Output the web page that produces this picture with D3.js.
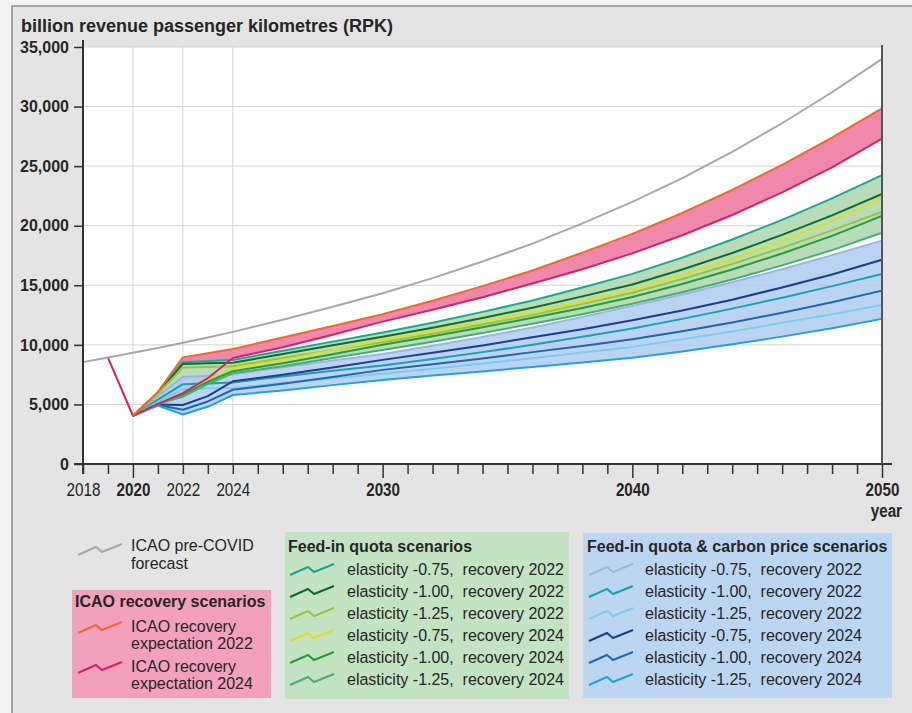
<!DOCTYPE html>
<html>
<head>
<meta charset="utf-8">
<script src="https://cdn.jsdelivr.net/npm/d3@7"></script>
<style>
body { margin: 0; background: #f4f4f4; }
svg text { font-family: "Liberation Sans", Arial, sans-serif; fill: #262626; }
</style>
</head>
<body>
<div id="chart"></div>
<script>
// years with data points
let years = [2018, 2019, 2020, 2021, 2022, 2023, 2024, 2026, 2028, 2030, 2032, 2034, 2036, 2038, 2040, 2042, 2044, 2046, 2048, 2050];

let yTicks = [0, 5000, 10000, 15000, 20000, 25000, 30000, 35000];
let xLabelYears = [2018, 2020, 2022, 2024, 2030, 2040, 2050];
let xBoldYears = [2020, 2030, 2040, 2050];
let gridYears = [2020, 2022, 2024];

let preCovid = [8550, 8930, 9330, 9740, 10170, 10620, 11090, 12100, 13200, 14330, 15600, 17000, 18500, 20200, 22000, 24000, 26200, 28600, 31200, 34000];
let icao2022 = [null, null, 4050, 6050, 8950, 9300, 9650, 10620, 11590, 12580, 13700, 14930, 16240, 17740, 19320, 21070, 23000, 25110, 27390, 29850];
let icao2024 = [null, 8930, 4050, 5050, 5950, 7200, 8900, 9800, 10850, 11950, 12950, 14000, 15150, 16350, 17680, 19200, 20900, 22800, 24900, 27300];

// feed-in quota
let fq22_075 = [null, null, 4050, 6000, 8550, 8650, 8730, 9500, 10270, 11030, 11860, 12770, 13720, 14810, 15960, 17320, 18840, 20490, 22300, 24250];
let fq22_100 = [null, null, 4050, 5950, 8400, 8450, 8490, 9240, 9970, 10680, 11440, 12260, 13110, 14070, 15070, 16330, 17710, 19230, 20870, 22660];
let fq22_125 = [null, null, 4050, 5900, 8100, 8150, 8200, 8890, 9560, 10210, 10930, 11710, 12500, 13430, 14370, 15530, 16790, 18150, 19610, 21170];
let fq24_075 = [null, null, 4050, 5050, 5950, 7100, 8010, 8720, 9550, 10410, 11160, 11930, 12770, 13650, 14660, 15860, 17200, 18720, 20390, 22300];
let fq24_100 = [null, null, 4050, 5050, 5800, 6900, 7790, 8450, 9220, 10000, 10720, 11470, 12270, 13100, 14020, 15110, 16320, 17670, 19150, 20830];
let fq24_125 = [null, null, 4050, 5050, 5650, 6700, 7610, 8200, 8890, 9570, 10270, 10990, 11770, 12570, 13450, 14420, 15490, 16670, 17950, 19410];

// feed-in quota & carbon price
let cp22_075 = [null, null, 4050, 5700, 7300, 7400, 7530, 8120, 8690, 9230, 9920, 10670, 11450, 12350, 13270, 14220, 15250, 16350, 17530, 18750];
let cp22_100 = [null, null, 4050, 5400, 6700, 6750, 6850, 7350, 7820, 8270, 8810, 9390, 10000, 10680, 11380, 12180, 13040, 13960, 14930, 15940];
let cp22_125 = [null, null, 4050, 5200, 6300, 6350, 6370, 6800, 7200, 7570, 7990, 8440, 8870, 9350, 9830, 10470, 11130, 11850, 12570, 13340];
let cp24_075 = [null, null, 4050, 5000, 4950, 5700, 6940, 7490, 8100, 8740, 9340, 9950, 10640, 11310, 12060, 12880, 13790, 14820, 15910, 17150];
let cp24_100 = [null, null, 4050, 4950, 4550, 5250, 6230, 6730, 7310, 7900, 8380, 8860, 9390, 9910, 10470, 11140, 11870, 12700, 13570, 14550];
let cp24_125 = [null, null, 4050, 4900, 4150, 4800, 5790, 6170, 6620, 7050, 7420, 7770, 8150, 8520, 8910, 9450, 10050, 10690, 11400, 12180];

let scenarioLabels = ["elasticity -0.75,  recovery 2022", "elasticity -1.00,  recovery 2022", "elasticity -1.25,  recovery 2022",
                      "elasticity -0.75,  recovery 2024", "elasticity -1.00,  recovery 2024", "elasticity -1.25,  recovery 2024"];

let greenSeries = [
  {values: fq22_075, color: "#1fa596"},
  {values: fq22_100, color: "#0f6b2e"},
  {values: fq22_125, color: "#9cc43a"},
  {values: fq24_075, color: "#dbe024"},
  {values: fq24_100, color: "#279a3b"},
  {values: fq24_125, color: "#45b06e"}
];
let blueSeries = [
  {values: cp22_075, color: "#9db4de"},
  {values: cp22_100, color: "#1a9fb3"},
  {values: cp22_125, color: "#7ccbef"},
  {values: cp24_075, color: "#1d3c8c"},
  {values: cp24_100, color: "#1f66ae"},
  {values: cp24_125, color: "#22a2d8"}
];

let width = 912, height = 713;
let svg = d3.select("#chart").append("svg")
            .attr("width", width)
            .attr("height", height);

svg.append("rect")
   .attr("x", 12).attr("y", 6)
   .attr("width", width).attr("height", height)
   .attr("fill", "#e4e4e4")
   .attr("stroke", "#8c8c8c")
   .attr("stroke-width", 1.5);

let x = d3.scaleLinear().domain([2018, 2050]).range([83, 882]);
let y = d3.scaleLinear().domain([0, 35000]).range([464, 47]);

let rows = years.map(function(yr, i) { return {year: yr, i: i}; });

// plot background
svg.append("rect")
   .attr("x", x(2018)).attr("y", y(35000))
   .attr("width", x(2050) - x(2018)).attr("height", y(0) - y(35000))
   .attr("fill", "#fff");

// grid
svg.append("g").selectAll("line")
   .data(yTicks.slice(1))
   .enter().append("line")
     .attr("x1", x(2018)).attr("x2", x(2050))
     .attr("y1", function(d) { return y(d); })
     .attr("y2", function(d) { return y(d); })
     .attr("stroke", "#d4d4d4");
svg.append("g").selectAll("line")
   .data(gridYears)
   .enter().append("line")
     .attr("x1", function(d) { return x(d); })
     .attr("x2", function(d) { return x(d); })
     .attr("y1", y(35000)).attr("y2", y(0))
     .attr("stroke", "#d4d4d4");

// bands
let pinkArea = d3.area()
    .defined(function(d) { return icao2022[d.i] != null && icao2024[d.i] != null; })
    .x(function(d) { return x(d.year); })
    .y0(function(d) { return y(icao2024[d.i]); })
    .y1(function(d) { return y(icao2022[d.i]); });
svg.append("path").datum(rows).attr("d", pinkArea).attr("fill", "#ee89ab");

function bandArea(group) {
  return d3.area()
    .defined(function(d) { return group[0].values[d.i] != null; })
    .x(function(d) { return x(d.year); })
    .y0(function(d) { return y(d3.min(group, function(s) { return s.values[d.i]; })); })
    .y1(function(d) { return y(d3.max(group, function(s) { return s.values[d.i]; })); });
}
svg.append("path").datum(rows).attr("d", bandArea(greenSeries)).attr("fill", "#b9dcb8");
svg.append("path").datum(rows).attr("d", bandArea(blueSeries)).attr("fill", "#aecbee").attr("fill-opacity", 0.85);

function seriesLine(values) {
  return d3.line()
    .defined(function(d) { return values[d.i] != null; })
    .x(function(d) { return x(d.year); })
    .y(function(d) { return y(values[d.i]); });
}

let lines = blueSeries.concat(greenSeries).concat([
  {values: icao2024, color: "#d6206e"},
  {values: icao2022, color: "#eb6a2d"},
  {values: preCovid, color: "#a8a8a8"}
]);
svg.append("g").selectAll("path")
   .data(lines)
   .enter().append("path")
     .attr("d", function(s) { return seriesLine(s.values)(rows); })
     .attr("fill", "none")
     .attr("stroke", function(s) { return s.color; })
     .attr("stroke-width", 2)
     .attr("stroke-linejoin", "round");

// y axis
let yAxis = svg.append("g")
   .attr("transform", "translate(" + x(2018) + ",0)")
   .call(d3.axisLeft(y).tickValues(yTicks).tickSize(9).tickSizeOuter(0).tickFormat(d3.format(",")));
yAxis.select(".domain").remove();
yAxis.selectAll(".tick line").attr("stroke", "#333").attr("stroke-width", 1.5);
yAxis.selectAll(".tick text")
   .attr("x", -14).attr("dy", "0.33em")
   .style("font-size", "16px").style("font-weight", "bold").style("fill", "#262626");

// x axis, labels squeezed to look like a narrow face
let xAxis = svg.append("g")
   .attr("transform", "translate(0," + y(0) + ")")
   .call(d3.axisBottom(x).tickValues(d3.range(2018, 2051)).tickSize(10).tickSizeOuter(0)
         .tickFormat(function(d) { return xLabelYears.indexOf(d) >= 0 ? String(d) : ""; }));
xAxis.select(".domain").remove();
xAxis.selectAll(".tick line")
   .attr("y2", function(d) { return xBoldYears.indexOf(d) >= 0 ? 14 : 10; })
   .attr("stroke", "#333").attr("stroke-width", 1.5);
xAxis.selectAll(".tick text")
   .attr("y", 0).attr("dy", 0)
   .attr("transform", "translate(0,32) scale(0.8,1)")
   .style("font-size", "19px")
   .style("font-weight", function(d) { return xBoldYears.indexOf(d) >= 0 ? "bold" : "normal"; })
   .style("fill", "#262626");

svg.append("line").attr("x1", 74).attr("x2", 892).attr("y1", y(0)).attr("y2", y(0)).attr("stroke", "#333").attr("stroke-width", 2);
svg.append("line").attr("x1", x(2018)).attr("x2", x(2018)).attr("y1", 40).attr("y2", y(0) + 10).attr("stroke", "#333").attr("stroke-width", 2);
svg.append("line").attr("x1", x(2050)).attr("x2", x(2050)).attr("y1", 45).attr("y2", y(0)).attr("stroke", "#555").attr("stroke-width", 2);

svg.append("text")
   .attr("transform", "translate(902,517) scale(0.8,1)")
   .attr("text-anchor", "end")
   .style("font-size", "19px").style("font-weight", "bold")
   .text("year");

svg.append("text")
   .attr("x", 21).attr("y", 32)
   .style("font-size", "18px").style("font-weight", "bold")
   .text("billion revenue passenger kilometres (RPK)");

// legend
function icon(cx, cy, color) {
  let pts = [[-22, 5], [-4, -3], [2, 2], [22, -6]];
  svg.append("polyline")
     .attr("points", pts.map(function(p) { return (cx + p[0]) + "," + (cy + p[1]); }).join(" "))
     .attr("fill", "none").attr("stroke", color).attr("stroke-width", 2);
}
function label(tx, ty, str, bold) {
  svg.append("text").attr("x", tx).attr("y", ty)
     .style("font-size", "16px").style("font-weight", bold ? "bold" : "normal")
     .text(str);
}

icon(100, 550, "#a8a8a8");
label(131, 551, "ICAO pre-COVID");
label(131, 569, "forecast");

svg.append("rect").attr("x", 72).attr("y", 590).attr("width", 199).attr("height", 108).attr("fill", "#f2a0bc");
label(75, 607, "ICAO recovery scenarios", true);
icon(100, 628, "#eb6a2d");
label(131, 632, "ICAO recovery");
label(131, 649, "expectation 2022");
icon(100, 668, "#d6206e");
label(131, 672, "ICAO recovery");
label(131, 689, "expectation 2024");

svg.append("rect").attr("x", 285).attr("y", 532).attr("width", 284).attr("height", 167).attr("fill", "#c3e3c3");
label(288, 552, "Feed-in quota scenarios", true);
greenSeries.forEach(function(s, i) {
  icon(312, 570 + i * 22, s.color);
  svg.append("text").attr("x", 347).attr("y", 575 + i * 22).style("font-size", "16px")
     .attr("xml:space", "preserve").text(scenarioLabels[i]);
});

svg.append("rect").attr("x", 583).attr("y", 533).attr("width", 309).attr("height", 165).attr("fill", "#bcd5f1");
label(587, 552, "Feed-in quota & carbon price scenarios", true);
blueSeries.forEach(function(s, i) {
  icon(611, 570 + i * 22, s.color);
  svg.append("text").attr("x", 645).attr("y", 575 + i * 22).style("font-size", "16px")
     .attr("xml:space", "preserve").text(scenarioLabels[i]);
});
</script>
</body>
</html>
